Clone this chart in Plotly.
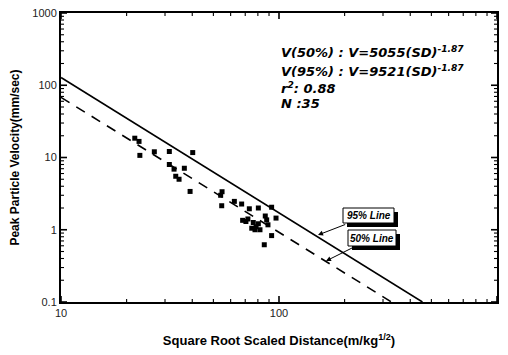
import math
import plotly.graph_objects as go

# ---- data ----
sd = [21.8, 22.8, 23.0, 26.8, 31.4, 40.2, 31.4, 33.0, 36.8, 33.6, 34.8, 39.1,
      54.8, 54.6, 62.4, 67.4, 73.1, 80.4, 92.5, 68.1, 72.0, 76.2, 80.4, 77.6,
      81.8, 87.8, 89.0, 96.9, 92.5, 85.6, 54.0, 70.5, 75.0, 78.5, 86.5]
ppv = [18.5, 16.7, 10.7, 12.0, 12.1, 11.7, 8.0, 6.9, 7.1, 5.5, 5.0, 3.39,
       3.36, 2.15, 2.47, 2.27, 1.95, 2.0, 2.05, 1.35, 1.41, 1.26, 1.21, 1.0,
       1.0, 1.37, 1.17, 1.45, 0.83, 0.62, 3.0, 1.30, 1.05, 1.10, 1.55]

line95_x = [10, 455]
line95_y = [128, 0.1]
line50_x = [10, 328]
line50_y = [68, 0.1]

x_ticks = [10, 100, 1000]
y_ticks = [0.1, 1, 10, 100, 1000]
x_tick_labels = ["10", "100", "1000"]
y_tick_labels = ["0.1", "1", "10", "100", "1000"]

# plot area in pixels
L, R, T, B = 61, 497, 13, 302
W, H = 508, 355
X_RANGE = [1, 3]
Y_RANGE = [-1, 3]

def px(x):
    return (x - L) / (R - L)

def py(y):
    return (B - y) / (B - T)

fig = go.Figure()
fig.add_trace(go.Scatter(x=line95_x, y=line95_y, mode="lines",
                         line=dict(color="black", width=1.6), showlegend=False))
fig.add_trace(go.Scatter(x=line50_x, y=line50_y, mode="lines",
                         line=dict(color="black", width=1.6, dash="10px,8px"), showlegend=False))
fig.add_trace(go.Scatter(x=sd, y=ppv, mode="markers",
                         marker=dict(symbol="square", size=5, color="black"), showlegend=False))

font_main = "Liberation Sans, Arial, sans-serif"
font_ann = "DejaVu Sans, Verdana, sans-serif"

axis_common = dict(
    type="log", showgrid=False, zeroline=False, automargin=False,
    showline=True, linecolor="black", linewidth=2, mirror=True,
    ticks="", tickfont=dict(family=font_main, size=11, color="#222"),
)

fig.update_xaxes(range=X_RANGE, tickvals=x_ticks, ticktext=x_tick_labels,
                 title=dict(text="<b>Square Root Scaled Distance(m/kg<sup>1/2</sup>)</b>",
                            font=dict(family=font_main, size=13, color="black"), standoff=18),
                 **axis_common)
fig.update_yaxes(range=Y_RANGE, tickvals=y_ticks, ticktext=y_tick_labels,
                 title=dict(text="<b>Peak Particle Velocity(mm/sec)</b>",
                            font=dict(family=font_main, size=12, color="black"), standoff=10),
                 **axis_common)

# inside tick marks on all four sides (axis decoration; positions in data units)
shapes = []
PW, PH = R - L, B - T
def tick_values(lo, hi):
    major, minor = [], []
    for d in range(lo, hi + 1):
        major.append(10.0 ** d)
        if d < hi:
            for m in range(2, 10):
                minor.append(m * 10.0 ** d)
    return major, minor

xmaj, xmin_ = tick_values(*X_RANGE)
ymaj, ymin_ = tick_values(*Y_RANGE)
spec_x = [(v, 6, 1.6) for v in xmaj] + [(v, 3, 1.1) for v in xmin_]
spec_y = [(v, 6, 1.6) for v in ymaj] + [(v, 3, 1.1) for v in ymin_]
for v, ln, w in spec_x:
    shapes.append(dict(type="line", xref="x", yref="paper", x0=v, x1=v, y0=0, y1=ln / PH,
                       line=dict(color="black", width=w), layer="above"))
    shapes.append(dict(type="line", xref="x", yref="paper", x0=v, x1=v, y0=1, y1=1 - ln / PH,
                       line=dict(color="black", width=w), layer="above"))
for v, ln, w in spec_y:
    shapes.append(dict(type="line", xref="paper", yref="y", y0=v, y1=v, x0=0, x1=ln / PW,
                       line=dict(color="black", width=w), layer="above"))
    shapes.append(dict(type="line", xref="paper", yref="y", y0=v, y1=v, x0=1, x1=1 - ln / PW,
                       line=dict(color="black", width=w), layer="above"))

ann = []
txt_font = dict(family=font_ann, size=13, color="black")
lines = [
    ("<b><i>V(50%) : V=5055(SD)<sup>-1.87</sup></i></b>", 52),
    ("<b><i>V(95%) : V=9521(SD)<sup>-1.87</sup></i></b>", 71),
    ("<b><i>r<sup>2</sup>: 0.88</i></b>", 88),
    ("<b><i>N :35</i></b>", 103),
]
for t, yy in lines:
    ann.append(dict(text=t, x=px(279), y=py(yy), xref="paper", yref="paper",
                    xanchor="left", yanchor="middle", showarrow=False, font=txt_font))

boxes = [
    ("95% Line", 343, 208, 394, 223, 318, 235),
    ("50% Line", 348, 230, 396, 246, 326, 261),
]
for label, x0, y0, x1, y1, hx, hy in boxes:
    shapes.append(dict(type="rect", xref="paper", yref="paper",
                       x0=px(x0 + 4), x1=px(x1 + 4), y0=py(y1 + 4), y1=py(y0 + 4),
                       fillcolor="black", line=dict(width=0), layer="above"))
    shapes.append(dict(type="rect", xref="paper", yref="paper",
                       x0=px(x0), x1=px(x1), y0=py(y1), y1=py(y0),
                       fillcolor="white", line=dict(color="black", width=1), layer="above"))
    cx, cy = (x0 + x1) / 2, (y0 + y1) / 2
    ann.append(dict(text="<b><i>" + label + "</i></b>", x=px(hx), y=py(hy),
                    xref="paper", yref="paper", xanchor="center", yanchor="middle",
                    ax=cx - hx, ay=cy - hy, axref="pixel", ayref="pixel",
                    showarrow=True, arrowhead=2, arrowsize=1, arrowwidth=1, arrowcolor="black",
                    borderpad=3,
                    font=dict(family=font_main, size=10, color="black")))

fig.update_layout(
    width=W, height=H,
    margin=dict(l=L, r=W - R, t=T, b=H - B),
    paper_bgcolor="white", plot_bgcolor="white",
    annotations=ann, shapes=shapes,
    font=dict(family=font_main),
)

fig.write_html("out.html")
